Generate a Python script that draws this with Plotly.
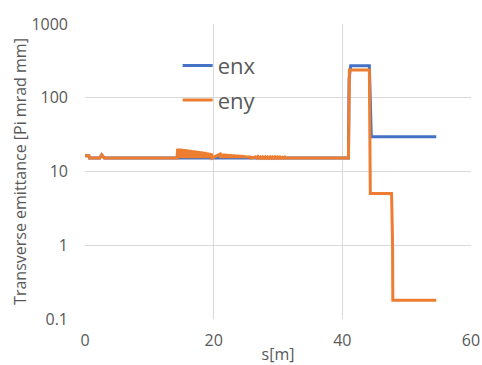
import plotly.graph_objects as go

# ---- data ----
base_s = [0.0, 0.6, 0.7, 2.3, 2.6, 2.9, 3.0, 14.3]
base_v = [16.3, 16.3, 15.2, 15.2, 16.8, 15.2, 15.2, 15.2]

# noisy region 1 (s ~14.4 .. 19.8): peak values
noise1_start, noise1_step = 14.4, 0.06
noise1_peaks = [20.3, 20.5, 20.1, 20.4, 20.0, 20.3, 19.9, 20.2, 19.8, 20.1,
                19.7, 20.0, 19.6, 19.8, 19.4, 19.7, 19.3, 19.5, 19.2, 19.4,
                19.1, 19.3, 19.0, 19.2, 18.9, 19.0, 18.8, 18.9, 18.6, 18.8,
                18.5, 18.7, 18.4, 18.5, 18.3, 18.4, 18.1, 18.2, 18.0, 18.1,
                17.8, 17.9, 17.7, 17.6, 17.5]
# noisy region 2 (s ~21 .. 26)
noise2_start, noise2_step = 21.0, 0.07
noise2_peaks = [17.2, 17.5, 17.3, 17.4, 17.2, 17.4, 17.1, 17.3, 17.1, 17.2,
                17.0, 17.2, 16.9, 17.1, 16.9, 17.0, 16.8, 16.9, 16.7, 16.9,
                16.6, 16.8, 16.6, 16.7, 16.5, 16.6, 16.4, 16.5, 16.4, 16.3,
                16.4, 16.2, 16.3, 16.1, 16.2]
# small bumps region 3 (s ~26.5 .. 31.5)
noise3_start, noise3_step = 26.5, 0.19
noise3_peaks = [15.8, 15.9, 15.7, 15.8, 15.8, 15.7, 15.8, 15.7, 15.8, 15.7,
                15.7, 15.6, 15.7]
base_level = 15.2

tail_s_enx = [40.95, 41.05, 41.3, 44.2, 44.5, 54.6]
tail_v_enx = [15.2, 180.0, 272.0, 272.0, 29.7, 29.7]
tail_s_eny = [40.95, 41.1, 44.2, 44.35, 47.65, 47.8, 47.85, 54.6]
tail_v_eny = [15.2, 238.0, 238.0, 5.05, 5.05, 1.2, 0.18, 0.18]

x_ticks = [0, 20, 40, 60]
y_tickvals = [0.1, 1, 10, 100, 1000]
y_ticktext = ["0.1", "1", "10", "100", "1000"]


def noisy(start, step, peaks):
    s, v = [], []
    for i, p in enumerate(peaks):
        s += [start + 2 * i * step, start + (2 * i + 1) * step]
        v += [p, base_level]
    return s, v


def build(tail_s, tail_v, with_noise=True):
    s, v = list(base_s), list(base_v)
    for (st, sp, pk) in [(noise1_start, noise1_step, noise1_peaks),
                         (noise2_start, noise2_step, noise2_peaks),
                         (noise3_start, noise3_step, noise3_peaks)]:
        ns, nv = noisy(st, sp, pk)
        if not with_noise:
            nv = [base_level] * len(nv)
        s += ns
        v += nv
    s += tail_s
    v += tail_v
    return s, v


sx, vx = build(tail_s_enx, tail_v_enx, with_noise=False)
sy, vy = build(tail_s_eny, tail_v_eny)

fig = go.Figure()
fig.add_trace(go.Scatter(x=sx, y=vx, mode="lines", name="enx",
                         line=dict(color="#4472C4", width=3),
                         legendgroup="a"))
fig.add_trace(go.Scatter(x=sy, y=vy, mode="lines", name="eny",
                         line=dict(color="#ED7D31", width=3),
                         legendgroup="b"))

font_family = "Open Sans"
fig.update_layout(
    width=482, height=365,
    margin=dict(l=85, r=11, t=24, b=46),
    paper_bgcolor="white", plot_bgcolor="white",
    font=dict(family=font_family, color="#595959", size=16),
    showlegend=True,
    legend=dict(x=0.24, y=0.93, xanchor="left", yanchor="top",
                bgcolor="rgba(0,0,0,0)", font=dict(size=22, color="#595959"),
                tracegroupgap=3, itemwidth=30),
    xaxis=dict(range=[0, 60], tickvals=x_ticks, showgrid=True,
               gridcolor="#D9D9D9", gridwidth=1, zeroline=False,
               showline=False, ticks="", tickfont=dict(size=16),
               ticklabelstandoff=10, automargin=False,
               title=dict(text="s[m]", font=dict(size=16), standoff=0)),
    yaxis=dict(type="log", range=[-1, 3], tickvals=y_tickvals,
               ticktext=y_ticktext, showgrid=True, gridcolor="#D9D9D9",
               gridwidth=1, zeroline=False, showline=False, ticks="",
               tickfont=dict(size=16), ticklabelstandoff=16, automargin=False,
               title=dict(text="Transverse emittance [Pi mrad mm]",
                          font=dict(size=16), standoff=0)),
)

fig.write_html("out.html")
